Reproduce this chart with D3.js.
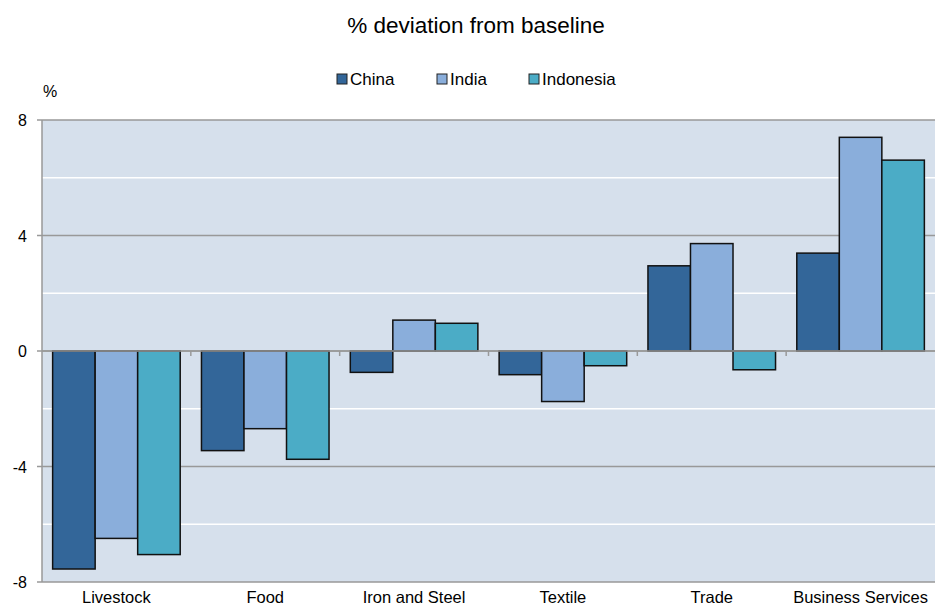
<!DOCTYPE html>
<html><head><meta charset="utf-8">
<script src="https://cdn.jsdelivr.net/npm/d3@7"></script>
<style>body{margin:0;background:#fff}svg{display:block;font-family:"Liberation Sans",Arial,sans-serif}</style>
</head><body><svg id="c" width="935" height="609"></svg>
<script>
const categories = ["Livestock","Food","Iron and Steel","Textile","Trade","Business Services"];
const seriesNames = ["China","India","Indonesia"];
const china = [-7.55,-3.45,-0.74,-0.82,2.95,3.39];
const india = [-6.49,-2.69,1.07,-1.75,3.72,7.40];
const indonesia = [-7.05,-3.75,0.96,-0.51,-0.65,6.61];
const yTicks = [-8,-4,0,4,8];
const yMinor = [-6,-2,2,6];
const colors = ["#336699","#8aaedb","#4bacc6"];
const values = [china, india, indonesia];

const svg = d3.select("#c");
const L = 42, R = 935, T = 120, B = 582;
const x = d3.scaleBand().domain(categories).range([L,R]).paddingInner(0).paddingOuter(0);
const xs = d3.scaleBand().domain(seriesNames).range([0,x.bandwidth()]).paddingInner(0).paddingOuter(0.25);
const y = d3.scaleLinear().domain([-8,8]).range([B,T]);

svg.append("rect").attr("x",L).attr("y",T).attr("width",R-L).attr("height",B-T).attr("fill","#d6e0ec");
svg.selectAll(".minor").data(yMinor).enter().append("line")
  .attr("x1",L).attr("x2",R).attr("y1",d=>y(d)).attr("y2",d=>y(d)).attr("stroke","#ffffff").attr("stroke-width",1.5);
svg.selectAll(".major").data(yTicks).enter().append("line")
  .attr("x1",L-5).attr("x2",R).attr("y1",d=>y(d)).attr("y2",d=>y(d)).attr("stroke","#999").attr("stroke-width",1.5);
svg.append("line").attr("x1",L).attr("x2",L).attr("y1",T).attr("y2",B).attr("stroke","#999").attr("stroke-width",1.5);
svg.selectAll(".ylab").data(yTicks).enter().append("text")
  .attr("x",27).attr("y",d=>y(d)+6).attr("text-anchor","end").attr("font-size",16).attr("fill","#000").text(d=>d);

// bars
seriesNames.forEach((s,si)=>{
  svg.append("g").selectAll("rect").data(categories).enter().append("rect")
    .attr("x",c=>x(c)+xs(s)).attr("width",xs.bandwidth())
    .attr("y",(c,i)=>y(Math.max(0,values[si][i])))
    .attr("height",(c,i)=>Math.abs(y(values[si][i])-y(0)))
    .attr("fill",colors[si]).attr("stroke","#111").attr("stroke-width",1.5);
});
// zero line on top
svg.append("line").attr("x1",L).attr("x2",R).attr("y1",y(0)).attr("y2",y(0)).attr("stroke","#999").attr("stroke-width",1.5);
// category ticks
svg.selectAll(".ct").data(categories.slice(1)).enter().append("line")
  .attr("x1",c=>x(c)).attr("x2",c=>x(c)).attr("y1",y(0)).attr("y2",y(0)+5).attr("stroke","#999").attr("stroke-width",1.5);
svg.selectAll(".xlab").data(categories).enter().append("text")
  .attr("x",c=>x(c)+x.bandwidth()/2).attr("y",603).attr("text-anchor","middle").attr("font-size",16.5).attr("fill","#000").text(c=>c);

svg.append("text").attr("x",476).attr("y",33).attr("text-anchor","middle").attr("font-size",22.5).text("% deviation from baseline");
svg.append("text").attr("x",43).attr("y",97).attr("font-size",16).text("%");

const legX = [337,437,529];
seriesNames.forEach((s,i)=>{
  svg.append("rect").attr("x",legX[i]).attr("y",74).attr("width",10).attr("height",10).attr("fill",colors[i]).attr("stroke","#222").attr("stroke-width",1);
  svg.append("text").attr("x",legX[i]+13).attr("y",85).attr("font-size",17).text(s);
});
</script></body></html>
